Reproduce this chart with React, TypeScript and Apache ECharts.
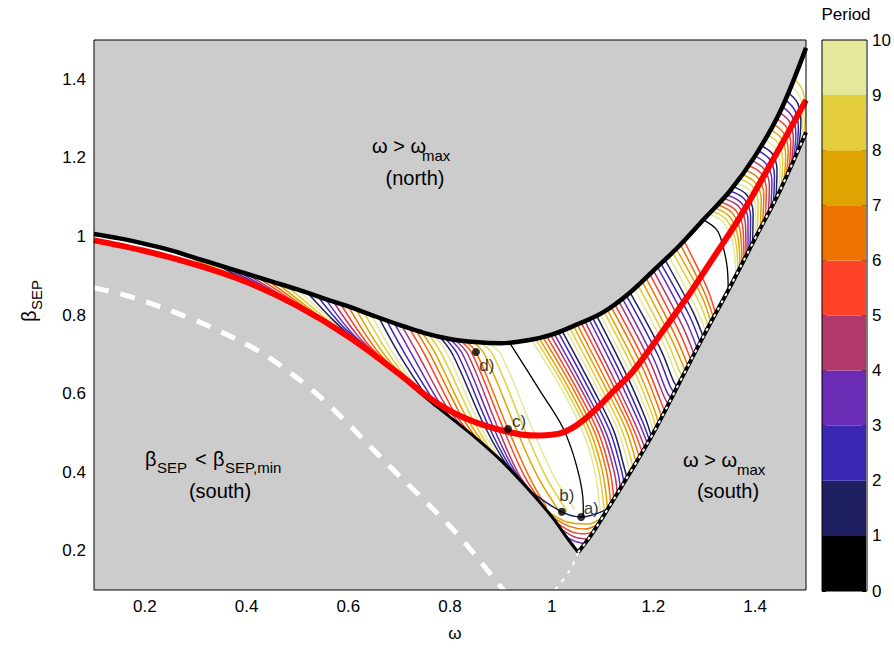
import React, { useEffect, useRef } from 'react';
import * as echarts from 'echarts';

const FONT = '"Liberation Sans", Arial, Helvetica, sans-serif';

// colours of the period colour bar, from period 0-1 up to 9-10
const periodColors = ['#000000', '#1f2062', '#3a28b3', '#6a2cb5', '#b0386a', '#fe4328', '#ee7300', '#e0a400', '#e4cd3c', '#e5e89a'];
const periodLevels = [0, 1, 2, 3, 4, 5, 6, 7, 8, 9];

// boundaries of the admissible region [omega, beta]
const upperBoundary = [[0.1, 1.006], [0.15, 0.995], [0.2, 0.981], [0.25, 0.965], [0.3, 0.945], [0.35, 0.925], [0.4, 0.905], [0.45, 0.885], [0.5, 0.865], [0.55, 0.843], [0.6, 0.822], [0.65, 0.798], [0.7, 0.775], [0.75, 0.754], [0.8, 0.739], [0.85, 0.731], [0.9, 0.728], [0.95, 0.735], [1.0, 0.75], [1.05, 0.776], [1.1, 0.806], [1.15, 0.853], [1.2, 0.913], [1.25, 0.975], [1.3, 1.045], [1.35, 1.115], [1.4, 1.205], [1.45, 1.32], [1.5, 1.48]];
const lowerBoundary = [[0.1, 0.99], [0.15, 0.978], [0.2, 0.963], [0.25, 0.947], [0.3, 0.928], [0.35, 0.907], [0.4, 0.884], [0.45, 0.857], [0.5, 0.823], [0.55, 0.785], [0.6, 0.745], [0.65, 0.7], [0.7, 0.648], [0.75, 0.592], [0.8, 0.54], [0.85, 0.488], [0.9, 0.43], [0.95, 0.362], [1.0, 0.287], [1.03, 0.233], [1.052, 0.196]];
const rightBoundary = [[1.052, 0.196], [1.075, 0.235], [1.1, 0.285], [1.15, 0.39], [1.2, 0.5], [1.25, 0.625], [1.3, 0.75], [1.35, 0.87], [1.4, 0.995], [1.45, 1.12], [1.5, 1.265]];
const tipDashed = [[1.052, 0.196], [1.036, 0.151], [1.005, 0.098]];
const minBetaDashed = [[0.1, 0.869], [0.171, 0.847], [0.289, 0.792], [0.35, 0.757], [0.42, 0.711], [0.466, 0.672], [0.551, 0.584], [0.682, 0.414], [0.813, 0.244], [0.9, 0.108], [0.906, 0.098]];
const redCurve = [[0.1, 0.99], [0.2, 0.963], [0.3, 0.928], [0.4, 0.884], [0.5, 0.823], [0.6, 0.745], [0.7, 0.65], [0.75, 0.598], [0.8, 0.556], [0.85, 0.527], [0.9, 0.507], [0.94, 0.496], [0.977, 0.493], [1.0, 0.495], [1.02, 0.5], [1.04, 0.512], [1.06, 0.53], [1.08, 0.552], [1.1, 0.577], [1.12, 0.604], [1.154, 0.648], [1.174, 0.68], [1.22, 0.762], [1.272, 0.856], [1.32, 0.95], [1.37, 1.049], [1.435, 1.195], [1.5, 1.347]];
const blackOrbitMid = [[0.918, 0.728], [0.977, 0.607], [1.022, 0.513], [1.05, 0.411], [1.062, 0.317], [1.062, 0.284]];
const blackOrbitRight = [[1.298, 1.042], [1.325, 1.016], [1.337, 0.973], [1.345, 0.922], [1.347, 0.867]];

// orbit families: period index + points
const familyLeft = [
  { p: 6, pts: [[0.26, 0.961], [0.3, 0.94], [0.35, 0.907]] },
  { p: 7, pts: [[0.28, 0.953], [0.322, 0.929], [0.375, 0.896]] },
  { p: 8, pts: [[0.3, 0.944], [0.345, 0.918], [0.4, 0.885]] },
  { p: 9, pts: [[0.32, 0.937], [0.368, 0.907], [0.425, 0.87]] },
  { p: 1, pts: [[0.34, 0.929], [0.39, 0.895], [0.45, 0.855]] },
  { p: 2, pts: [[0.36, 0.921], [0.413, 0.884], [0.473, 0.841]] },
  { p: 3, pts: [[0.38, 0.913], [0.435, 0.872], [0.495, 0.826]] },
  { p: 4, pts: [[0.4, 0.905], [0.455, 0.861], [0.515, 0.811]] },
  { p: 5, pts: [[0.42, 0.897], [0.475, 0.85], [0.535, 0.796]] },
  { p: 6, pts: [[0.44, 0.889], [0.495, 0.838], [0.555, 0.781]] },
  { p: 7, pts: [[0.46, 0.881], [0.515, 0.825], [0.575, 0.765]] },
  { p: 8, pts: [[0.48, 0.873], [0.535, 0.813], [0.593, 0.751]] },
  { p: 9, pts: [[0.5, 0.865], [0.555, 0.8], [0.61, 0.736]] },
  { p: 1, pts: [[0.52, 0.856], [0.572, 0.785], [0.615, 0.735], [0.64, 0.71]] },
  { p: 2, pts: [[0.54, 0.847], [0.59, 0.77], [0.635, 0.72], [0.665, 0.685]] },
  { p: 3, pts: [[0.555, 0.841], [0.605, 0.757], [0.647, 0.707], [0.677, 0.672]] },
  { p: 4, pts: [[0.57, 0.835], [0.62, 0.745], [0.66, 0.695], [0.69, 0.66]] },
  { p: 5, pts: [[0.585, 0.828], [0.635, 0.732], [0.675, 0.678], [0.702, 0.646]] },
  { p: 6, pts: [[0.6, 0.822], [0.65, 0.72], [0.69, 0.662], [0.715, 0.632]] },
  { p: 7, pts: [[0.615, 0.815], [0.662, 0.715], [0.702, 0.65], [0.727, 0.616]] },
  { p: 8, pts: [[0.63, 0.808], [0.675, 0.71], [0.715, 0.638], [0.74, 0.6]] },
  { p: 9, pts: [[0.645, 0.801], [0.687, 0.705], [0.73, 0.624], [0.755, 0.585]] },
  { p: 1, pts: [[0.66, 0.794], [0.7, 0.7], [0.745, 0.61], [0.77, 0.567]] },
  { p: 2, pts: [[0.675, 0.787], [0.712, 0.7], [0.76, 0.598], [0.785, 0.554]] },
  { p: 3, pts: [[0.69, 0.78], [0.725, 0.7], [0.775, 0.585], [0.8, 0.54]] },
  { p: 4, pts: [[0.705, 0.773], [0.737, 0.7], [0.79, 0.573], [0.818, 0.525], [0.825, 0.514]] },
  { p: 5, pts: [[0.72, 0.766], [0.75, 0.7], [0.805, 0.56], [0.835, 0.505], [0.85, 0.488]] },
  { p: 6, pts: [[0.733, 0.761], [0.761, 0.7], [0.818, 0.553], [0.849, 0.492], [0.865, 0.471]] },
  { p: 7, pts: [[0.745, 0.756], [0.772, 0.7], [0.83, 0.545], [0.862, 0.48], [0.88, 0.455]] },
  { p: 8, pts: [[0.758, 0.751], [0.784, 0.7], [0.843, 0.538], [0.876, 0.465], [0.898, 0.432]] },
  { p: 9, pts: [[0.77, 0.747], [0.795, 0.7], [0.855, 0.53], [0.89, 0.45], [0.915, 0.41]] },
  { p: 1, pts: [[0.78, 0.744], [0.805, 0.7], [0.865, 0.525], [0.903, 0.435], [0.93, 0.39]] },
  { p: 2, pts: [[0.79, 0.741], [0.815, 0.7], [0.875, 0.52], [0.915, 0.42], [0.945, 0.372]] },
  { p: 3, pts: [[0.8, 0.739], [0.825, 0.7], [0.885, 0.515], [0.925, 0.408], [0.958, 0.352]] },
  { p: 4, pts: [[0.81, 0.737], [0.835, 0.7], [0.895, 0.51], [0.935, 0.395], [0.97, 0.335]] },
  { p: 5, pts: [[0.82, 0.735], [0.843, 0.703], [0.905, 0.51], [0.945, 0.393], [0.98, 0.322]] },
  { p: 6, pts: [[0.83, 0.733], [0.851, 0.706], [0.914, 0.51], [0.955, 0.39], [0.99, 0.31]] },
  { p: 7, pts: [[0.845, 0.732], [0.868, 0.7], [0.93, 0.51], [0.972, 0.39], [1.02, 0.29]] },
  { p: 8, pts: [[0.86, 0.73], [0.884, 0.7], [0.946, 0.51], [0.988, 0.39], [1.03, 0.3]] },
  { p: 9, pts: [[0.875, 0.729], [0.9, 0.7], [0.962, 0.51], [1.004, 0.39], [1.045, 0.305]] },
];
const familyMid = [
  { p: 9, pts: [[0.96, 0.737], [1.02, 0.61], [1.062, 0.5], [1.085, 0.4], [1.097, 0.279]] },
  { p: 8, pts: [[0.968, 0.739], [1.028, 0.61], [1.07, 0.5], [1.093, 0.4], [1.104, 0.292]] },
  { p: 7, pts: [[0.975, 0.741], [1.035, 0.61], [1.077, 0.5], [1.1, 0.4], [1.11, 0.305]] },
  { p: 6, pts: [[0.983, 0.743], [1.043, 0.61], [1.085, 0.5], [1.108, 0.4], [1.116, 0.318]] },
  { p: 5, pts: [[0.99, 0.746], [1.05, 0.61], [1.092, 0.5], [1.115, 0.4], [1.122, 0.331]] },
  { p: 4, pts: [[0.998, 0.749], [1.058, 0.61], [1.1, 0.5], [1.123, 0.4], [1.129, 0.345]] },
  { p: 3, pts: [[1.005, 0.752], [1.065, 0.61], [1.107, 0.5], [1.13, 0.4], [1.135, 0.358]] },
  { p: 2, pts: [[1.013, 0.756], [1.073, 0.612], [1.115, 0.502], [1.137, 0.405], [1.142, 0.373]] },
  { p: 1, pts: [[1.02, 0.76], [1.08, 0.615], [1.122, 0.505], [1.143, 0.41], [1.148, 0.386]] },
  { p: 9, pts: [[1.028, 0.764], [1.088, 0.617], [1.13, 0.507], [1.154, 0.4]] },
  { p: 8, pts: [[1.035, 0.768], [1.095, 0.62], [1.137, 0.51], [1.16, 0.413]] },
  { p: 7, pts: [[1.043, 0.772], [1.103, 0.622], [1.145, 0.512], [1.166, 0.425]] },
  { p: 6, pts: [[1.05, 0.776], [1.11, 0.625], [1.152, 0.515], [1.172, 0.438]] },
  { p: 5, pts: [[1.058, 0.78], [1.118, 0.628], [1.158, 0.518], [1.178, 0.451]] },
  { p: 4, pts: [[1.065, 0.785], [1.125, 0.63], [1.165, 0.52], [1.183, 0.463]] },
  { p: 3, pts: [[1.073, 0.79], [1.133, 0.635], [1.172, 0.525], [1.188, 0.473]] },
  { p: 2, pts: [[1.08, 0.794], [1.14, 0.64], [1.178, 0.53], [1.192, 0.482]] },
  { p: 1, pts: [[1.088, 0.799], [1.148, 0.645], [1.184, 0.538], [1.196, 0.491]] },
  { p: 9, pts: [[1.095, 0.803], [1.155, 0.65], [1.19, 0.545], [1.2, 0.5]] },
  { p: 8, pts: [[1.103, 0.808], [1.163, 0.655], [1.195, 0.555], [1.205, 0.512]] },
  { p: 7, pts: [[1.11, 0.812], [1.17, 0.66], [1.2, 0.565], [1.21, 0.525]] },
  { p: 6, pts: [[1.118, 0.818], [1.178, 0.668], [1.207, 0.575], [1.216, 0.54]] },
  { p: 5, pts: [[1.125, 0.825], [1.185, 0.675], [1.213, 0.585], [1.222, 0.555]] },
  { p: 4, pts: [[1.133, 0.832], [1.193, 0.682], [1.22, 0.595], [1.229, 0.572]] },
  { p: 3, pts: [[1.14, 0.84], [1.2, 0.69], [1.226, 0.605], [1.235, 0.588]] },
  { p: 2, pts: [[1.148, 0.847], [1.208, 0.7], [1.233, 0.618], [1.241, 0.602]] },
  { p: 1, pts: [[1.155, 0.855], [1.215, 0.71], [1.24, 0.63], [1.247, 0.617]] },
  { p: 9, pts: [[1.163, 0.865], [1.222, 0.72], [1.246, 0.643], [1.253, 0.632]] },
  { p: 8, pts: [[1.17, 0.875], [1.228, 0.73], [1.252, 0.655], [1.258, 0.645]] },
  { p: 7, pts: [[1.178, 0.885], [1.235, 0.74], [1.263, 0.657]] },
  { p: 6, pts: [[1.185, 0.895], [1.242, 0.75], [1.268, 0.67]] },
  { p: 5, pts: [[1.193, 0.904], [1.249, 0.762], [1.274, 0.685]] },
  { p: 4, pts: [[1.2, 0.913], [1.256, 0.775], [1.28, 0.7]] },
  { p: 3, pts: [[1.208, 0.922], [1.263, 0.788], [1.286, 0.715]] },
  { p: 2, pts: [[1.215, 0.93], [1.27, 0.8], [1.292, 0.73]] },
  { p: 1, pts: [[1.223, 0.94], [1.277, 0.81], [1.298, 0.744]] },
  { p: 9, pts: [[1.23, 0.95], [1.283, 0.82], [1.303, 0.757]] },
  { p: 8, pts: [[1.238, 0.959], [1.29, 0.833], [1.308, 0.77]] },
  { p: 7, pts: [[1.245, 0.968], [1.296, 0.845], [1.313, 0.781]] },
  { p: 6, pts: [[1.253, 0.979], [1.3, 0.858], [1.318, 0.793]] },
  { p: 5, pts: [[1.26, 0.989], [1.305, 0.87], [1.322, 0.805]] },
];
const familyRight = [
  { p: 9, pts: [[1.31, 1.057], [1.338, 1.035], [1.356, 0.985], [1.362, 0.9]] },
  { p: 8, pts: [[1.316, 1.064], [1.344, 1.042], [1.361, 0.992], [1.366, 0.91]] },
  { p: 7, pts: [[1.322, 1.072], [1.35, 1.05], [1.366, 1.0], [1.37, 0.92]] },
  { p: 6, pts: [[1.328, 1.08], [1.356, 1.058], [1.371, 1.01], [1.374, 0.93]] },
  { p: 5, pts: [[1.334, 1.087], [1.362, 1.066], [1.376, 1.02], [1.378, 0.94]] },
  { p: 4, pts: [[1.34, 1.096], [1.368, 1.076], [1.381, 1.03], [1.382, 0.951]] },
  { p: 3, pts: [[1.346, 1.105], [1.373, 1.085], [1.386, 1.04], [1.386, 0.962]] },
  { p: 2, pts: [[1.352, 1.115], [1.379, 1.095], [1.391, 1.05], [1.39, 0.973]] },
  { p: 1, pts: [[1.358, 1.126], [1.384, 1.105], [1.396, 1.06], [1.395, 0.985]] },
  { p: 9, pts: [[1.364, 1.136], [1.39, 1.116], [1.401, 1.072], [1.4, 0.996]] },
  { p: 8, pts: [[1.37, 1.147], [1.395, 1.127], [1.406, 1.085], [1.404, 1.008]] },
  { p: 7, pts: [[1.376, 1.157], [1.4, 1.137], [1.412, 1.096], [1.41, 1.021]] },
  { p: 6, pts: [[1.382, 1.168], [1.406, 1.148], [1.417, 1.107], [1.415, 1.035]] },
  { p: 5, pts: [[1.388, 1.18], [1.412, 1.16], [1.422, 1.118], [1.42, 1.048]] },
  { p: 4, pts: [[1.394, 1.193], [1.417, 1.172], [1.428, 1.13], [1.426, 1.062]] },
  { p: 3, pts: [[1.4, 1.205], [1.422, 1.184], [1.433, 1.142], [1.431, 1.074]] },
  { p: 2, pts: [[1.406, 1.218], [1.428, 1.197], [1.438, 1.155], [1.436, 1.087]] },
  { p: 1, pts: [[1.412, 1.231], [1.434, 1.21], [1.443, 1.168], [1.441, 1.1]] },
  { p: 9, pts: [[1.418, 1.245], [1.44, 1.224], [1.449, 1.18], [1.446, 1.112]] },
  { p: 8, pts: [[1.424, 1.258], [1.446, 1.237], [1.454, 1.192], [1.451, 1.124]] },
  { p: 7, pts: [[1.43, 1.272], [1.451, 1.25], [1.46, 1.205], [1.456, 1.137]] },
  { p: 6, pts: [[1.436, 1.286], [1.456, 1.263], [1.465, 1.218], [1.46, 1.148]] },
  { p: 5, pts: [[1.442, 1.3], [1.462, 1.277], [1.47, 1.232], [1.465, 1.16]] },
  { p: 4, pts: [[1.448, 1.315], [1.468, 1.291], [1.475, 1.246], [1.47, 1.172]] },
  { p: 3, pts: [[1.454, 1.33], [1.473, 1.305], [1.48, 1.26], [1.474, 1.185]] },
  { p: 2, pts: [[1.46, 1.347], [1.478, 1.321], [1.485, 1.275], [1.479, 1.198]] },
  { p: 1, pts: [[1.466, 1.365], [1.484, 1.338], [1.49, 1.29], [1.484, 1.212]] },
  { p: 9, pts: [[1.472, 1.382], [1.488, 1.355], [1.494, 1.305], [1.489, 1.228]] },
  { p: 8, pts: [[1.478, 1.4], [1.493, 1.372], [1.499, 1.32], [1.494, 1.245]] },
];
const familyBottom = [
  { p: 1, pts: [[0.96, 0.35], [1.02, 0.299], [1.058, 0.286], [1.11, 0.306]] },
  { p: 7, pts: [[0.99, 0.302], [1.03, 0.273], [1.07, 0.268], [1.1, 0.285]] },
  { p: 6, pts: [[1.0, 0.287], [1.035, 0.262], [1.065, 0.255], [1.09, 0.266]] },
  { p: 5, pts: [[1.01, 0.271], [1.04, 0.248], [1.065, 0.243], [1.08, 0.248]] },
  { p: 4, pts: [[1.02, 0.254], [1.045, 0.235], [1.07, 0.23]] },
  { p: 3, pts: [[1.03, 0.234], [1.05, 0.222], [1.065, 0.218]] },
];

// marked orbits
const pointLabels = ['a)', 'b)', 'c)', 'd)'];
const pointOmega = [1.058, 1.02, 0.914, 0.851];
const pointBeta = [0.286, 0.299, 0.51, 0.706];
const labelOffsets = [[10, -8], [5, -16], [11, -7], [11, 14]];

const whitePolygon = [...upperBoundary, ...rightBoundary.slice().reverse(), ...lowerBoundary.slice().reverse()];

function lineS(pts: number[][], color: string, width: number, z: number, extra: any = {}) {
  return {
    type: 'line',
    xAxisIndex: 0,
    yAxisIndex: 0,
    data: pts,
    symbol: 'none',
    smooth: 0.35,
    silent: true,
    clip: true,
    z,
    lineStyle: { color, width, cap: 'butt', ...extra },
  };
}

function txt(text: string, x: number, y: number, size: number, align = 'left') {
  return {
    type: 'text',
    x,
    y,
    z: 50,
    style: { text, fontSize: size, fontFamily: FONT, fill: '#000', align, verticalAlign: 'middle' },
  };
}

export default function App() {
  const ref = useRef<HTMLDivElement>(null);
  useEffect(() => {
    const chart = echarts.init(ref.current!, null, { renderer: 'svg' });
    const series: any[] = [];
    series.push({
      type: 'custom',
      xAxisIndex: 0,
      yAxisIndex: 0,
      data: [[1, 1]],
      clip: true,
      silent: true,
      z: 1,
      renderItem: (_p: any, api: any) => ({
        type: 'polygon',
        shape: { points: whitePolygon.map((pt) => api.coord(pt)) },
        style: { fill: '#ffffff', stroke: null },
      }),
    });
    [...familyLeft, ...familyMid, ...familyRight, ...familyBottom].forEach((f) => {
      series.push(lineS(f.pts, periodColors[f.p], 1.5, 2));
    });
    series.push(lineS(blackOrbitMid, '#000', 1.3, 3));
    series.push(lineS(blackOrbitRight, '#000', 1.3, 3));
    series.push(lineS(minBetaDashed, '#ffffff', 5, 4, { type: [15, 12] }));
    series.push(lineS(tipDashed, '#ffffff', 2, 4, { type: [4, 6] }));
    series.push(lineS(lowerBoundary, '#000', 3, 4));
    series.push(lineS(rightBoundary, '#000', 4, 4));
    series.push(lineS(rightBoundary, '#ffffff', 2, 4, { type: [3, 5] }));
    series.push(lineS(upperBoundary, '#000', 4.5, 4));
    series.push(lineS(redCurve, '#ff0000', 6, 5));
    series.push({
      type: 'scatter',
      xAxisIndex: 0,
      yAxisIndex: 0,
      symbolSize: 8,
      silent: true,
      z: 6,
      itemStyle: { color: '#000' },
      data: pointLabels.map((name, i) => ({
        name,
        value: [pointOmega[i], pointBeta[i]],
        label: { offset: labelOffsets[i] },
      })),
      label: {
        show: true,
        position: 'inside',
        formatter: (p: any) => p.name,
        fontSize: 17,
        fontFamily: FONT,
        color: '#000',
      },
    });
    periodLevels.forEach((lv) => {
      series.push({
        type: 'bar',
        xAxisIndex: 1,
        yAxisIndex: 1,
        stack: 'cb',
        data: [1],
        barWidth: '100%',
        silent: true,
        itemStyle: { color: periodColors[lv] },
        name: 'p' + lv,
      });
    });

    const axisLabel = { fontSize: 17, fontFamily: FONT, color: '#000', showMinLabel: false, showMaxLabel: false };
    chart.setOption({
      animation: false,
      grid: [
        { left: 94, top: 40, width: 712, height: 550, show: true, backgroundColor: '#cccccc', borderWidth: 0 },
        { left: 822, top: 40, width: 45, height: 551, show: false },
      ],
      xAxis: [
        { gridIndex: 0, type: 'value', min: 0.1, max: 1.5, minInterval: 0.2, maxInterval: 0.2, splitNumber: 7, axisLabel: { ...axisLabel, margin: 8 }, axisLine: { show: false }, axisTick: { show: false }, splitLine: { show: false } },
        { gridIndex: 1, type: 'category', data: ['Period'], show: false },
      ],
      yAxis: [
        { gridIndex: 0, type: 'value', min: 0.1, max: 1.5, minInterval: 0.2, maxInterval: 0.2, splitNumber: 7, axisLabel: { ...axisLabel, margin: 8 }, axisLine: { show: false }, axisTick: { show: false }, splitLine: { show: false } },
        { gridIndex: 1, type: 'value', min: 0, max: 10, interval: 1, position: 'right', axisLabel: { fontSize: 17, fontFamily: FONT, color: '#000', margin: 6 }, axisLine: { show: false }, axisTick: { show: true, inside: true, length: 4, lineStyle: { color: '#000' } }, splitLine: { show: false } },
        { gridIndex: 1, type: 'value', min: 0, max: 10, interval: 1, position: 'left', axisLabel: { show: false }, axisLine: { show: false }, axisTick: { show: true, inside: true, length: 4, lineStyle: { color: '#000' } }, splitLine: { show: false } },
      ],
      series,
      graphic: [
        { type: 'rect', z: 40, shape: { x: 94, y: 40, width: 712, height: 550 }, style: { fill: 'none', stroke: '#000', lineWidth: 1 } },
        { type: 'rect', z: 40, shape: { x: 822, y: 40, width: 45, height: 551 }, style: { fill: 'none', stroke: '#000', lineWidth: 1 } },
        txt('Period', 846, 14, 17, 'center'),
        txt('ω', 455, 633, 17, 'center'),
        {
          type: 'group',
          x: 29,
          y: 322,
          rotation: Math.PI / 2,
          children: [txt('β', 0, 0, 20), txt('SEP', 12, 7, 15)],
        },
        txt('ω > ω', 372, 146, 20),
        txt('max', 422, 155, 15),
        txt('(north)', 415, 178, 20, 'center'),
        txt('β', 145, 459, 20),
        txt('SEP', 157, 467, 15),
        txt('<', 195, 459, 20),
        txt('β', 213, 459, 20),
        txt('SEP,min', 225, 467, 15),
        txt('(south)', 220, 491, 20, 'center'),
        txt('ω > ω', 683, 460, 20),
        txt('max', 737, 469, 15),
        txt('(south)', 728, 491, 20, 'center'),
      ],
    });
    return () => chart.dispose();
  }, []);
  return <div ref={ref} style={{ position: 'fixed', left: 0, top: 0, width: 894, height: 654, background: '#fff' }} />;
}
